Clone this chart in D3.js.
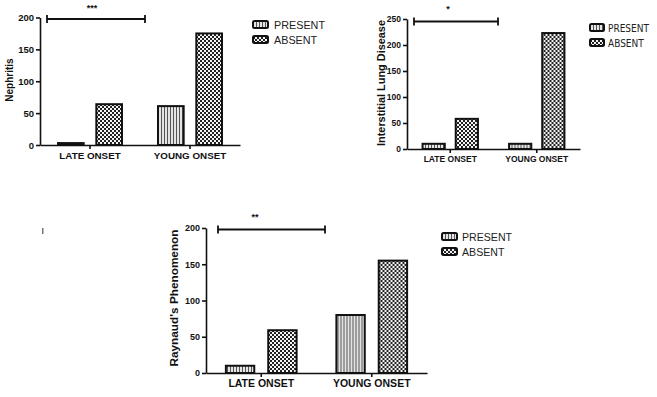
<!DOCTYPE html>
<html>
<head>
<meta charset="utf-8">
<script src="https://cdn.jsdelivr.net/npm/d3@7/dist/d3.min.js"></script>
<style>
  body { margin: 0; background: #fff; }
  svg { font-family: "Liberation Sans", Arial, sans-serif; }
  .axis path, .axis line { stroke: #111; stroke-width: 1.6; }
  .axis text { fill: #111; font-weight: bold; }
</style>
</head>
<body>
<script>
// categories and series
const categories = ["LATE ONSET", "YOUNG ONSET"];
const seriesNames = ["PRESENT", "ABSENT"];

// values
const nephritisPresent = [3, 61];
const nephritisAbsent = [64, 175];
const ildPresent = [10, 10];
const ildAbsent = [58, 223];
const raynaudPresent = [10, 80];
const raynaudAbsent = [59, 155];

// y tick labels
const ticks200 = [0, 50, 100, 150, 200];
const ticks250 = [0, 50, 100, 150, 200, 250];

// significance marks
const sigLabels = ["***", "*", "**"];

const width = 657, height = 397;

const svg = d3.select("body").append("svg")
    .attr("width", width)
    .attr("height", height);

// patterns for the two series
const defs = svg.append("defs");
const stripes = defs.append("pattern")
    .attr("id", "pat-present")
    .attr("patternUnits", "userSpaceOnUse")
    .attr("width", 3).attr("height", 3);
stripes.append("rect").attr("width", 3).attr("height", 3).attr("fill", "#e4e4e4");
stripes.append("rect").attr("width", 1).attr("height", 3).attr("fill", "#555");

const checks = defs.append("pattern")
    .attr("id", "pat-absent")
    .attr("patternUnits", "userSpaceOnUse")
    .attr("width", 4).attr("height", 4);
checks.append("rect").attr("width", 4).attr("height", 4).attr("fill", "#f4f4f4");
checks.append("rect").attr("width", 2).attr("height", 2).attr("fill", "#222");
checks.append("rect").attr("x", 2).attr("y", 2).attr("width", 2).attr("height", 2).attr("fill", "#222");

const fills = { PRESENT: "url(#pat-present)", ABSENT: "url(#pat-absent)" };

function drawPanel(p) {
    const g = svg.append("g");

    const x0 = d3.scaleBand()
        .domain(categories)
        .range([p.left, p.right])
        .padding(0);
    const x1 = d3.scaleBand()
        .domain(seriesNames)
        .range([x0.bandwidth() * 0.18, x0.bandwidth() * 0.82])
        .paddingInner(0.33);
    const y = d3.scaleLinear()
        .domain([0, p.yMax])
        .range([p.bottom, p.top]);

    const rows = categories.map((c, i) => ({
        cat: c,
        vals: [{ s: "PRESENT", v: p.present[i] }, { s: "ABSENT", v: p.absent[i] }]
    }));

    // bars
    g.selectAll(".grp")
        .data(rows)
        .join("g")
        .attr("transform", d => `translate(${x0(d.cat)},0)`)
        .selectAll("rect")
        .data(d => d.vals)
        .join("rect")
        .attr("x", d => x1(d.s))
        .attr("y", d => y(d.v))
        .attr("width", x1.bandwidth())
        .attr("height", d => y(0) - y(d.v))
        .attr("fill", d => fills[d.s])
        .attr("stroke", "#111")
        .attr("stroke-width", 2);

    // y axis
    g.append("g")
        .attr("class", "axis")
        .attr("transform", `translate(${p.left},0)`)
        .call(d3.axisLeft(y).tickValues(p.ticks).tickSize(4).tickSizeOuter(0).tickPadding(2))
        .call(a => a.selectAll("text").style("font-size", p.tickFont + "px"));

    // x axis
    g.append("g")
        .attr("class", "axis")
        .attr("transform", `translate(0,${p.bottom})`)
        .call(d3.axisBottom(x0).tickSize(4).tickSizeOuter(0).tickPadding(3))
        .call(a => a.selectAll("text").style("font-size", p.catFont + "px"));

    // y title
    const title = g.append("text")
        .attr("transform", `translate(${p.titleX},${p.titleY}) rotate(-90)`)
        .attr("text-anchor", "middle")
        .style("font-size", p.titleFont + "px")
        .style("font-weight", p.titleWeight)
        .attr("fill", "#111")
        .text(p.title);
    if (p.titleLen) {
        title.attr("textLength", p.titleLen).attr("lengthAdjust", "spacingAndGlyphs");
    }

    // significance bracket
    const sig = g.append("g").attr("stroke", "#111").attr("stroke-width", 1.8);
    sig.append("line").attr("x1", p.sig[0]).attr("x2", p.sig[1]).attr("y1", p.sigY).attr("y2", p.sigY);
    sig.append("line").attr("x1", p.sig[0]).attr("x2", p.sig[0]).attr("y1", p.sigY - 4).attr("y2", p.sigY + 4);
    sig.append("line").attr("x1", p.sig[1]).attr("x2", p.sig[1]).attr("y1", p.sigY - 4).attr("y2", p.sigY + 4);
    g.append("text")
        .attr("x", p.starX)
        .attr("y", p.starY)
        .attr("text-anchor", "middle")
        .style("font-size", "9px")
        .style("font-weight", "bold")
        .attr("fill", "#111")
        .text(p.sigLabel);

    // legend
    const lg = g.append("g").attr("transform", `translate(${p.legX},${p.legY})`);
    seriesNames.forEach((s, i) => {
        lg.append("rect")
            .attr("x", 0)
            .attr("y", i * 15)
            .attr("width", p.boxW)
            .attr("height", 7)
            .attr("rx", 1.5)
            .attr("fill", fills[s])
            .attr("stroke", "#111")
            .attr("stroke-width", 2);
        lg.append("text")
            .attr("x", p.textDx)
            .attr("y", i * 15 + 8)
            .style("font-size", p.legFont + "px")
            .style("font-family", p.legFamily)
            .attr("fill", "#222")
            .text(s);
    });
}

drawPanel({
    present: nephritisPresent, absent: nephritisAbsent, ticks: ticks200, yMax: 200,
    left: 40, right: 240, top: 17.5, bottom: 145,
    tickFont: 9.5, catFont: 9.8,
    title: "Nephritis", titleX: 13, titleY: 80, titleFont: 10, titleWeight: "bold", titleLen: null,
    sig: [47, 145], sigY: 19, starX: 92, starY: 11, sigLabel: sigLabels[0],
    legX: 253, legY: 21, boxW: 15, textDx: 21, legFont: 10.8, legFamily: null
});

drawPanel({
    present: ildPresent, absent: ildAbsent, ticks: ticks250, yMax: 250,
    left: 407, right: 580, top: 19, bottom: 149,
    tickFont: 8.5, catFont: 8.5,
    title: "Interstitial Lung Disease", titleX: 385, titleY: 83, titleFont: 10, titleWeight: "bold", titleLen: 126,
    sig: [414, 498], sigY: 21.5, starX: 448, starY: 12, sigLabel: sigLabels[1],
    legX: 590, legY: 24, boxW: 14, textDx: 18, legFont: 10, legFamily: "'Liberation Sans Narrow', 'DejaVu Sans Condensed', sans-serif"
});

drawPanel({
    present: raynaudPresent, absent: raynaudAbsent, ticks: ticks200, yMax: 200,
    left: 206, right: 427, top: 228, bottom: 373,
    tickFont: 9, catFont: 10.5,
    title: "Raynaud's Phenomenon", titleX: 178, titleY: 298, titleFont: 11.5, titleWeight: "bold", titleLen: 137,
    sig: [218, 325], sigY: 229.5, starX: 255, starY: 220, sigLabel: sigLabels[2],
    legX: 442, legY: 233, boxW: 15, textDx: 20, legFont: 10.6, legFamily: null
});

// stray scan mark at left
svg.append("rect")
    .attr("x", 42).attr("y", 228)
    .attr("width", 1.5).attr("height", 6)
    .attr("fill", "#777");
</script>
</body>
</html>
